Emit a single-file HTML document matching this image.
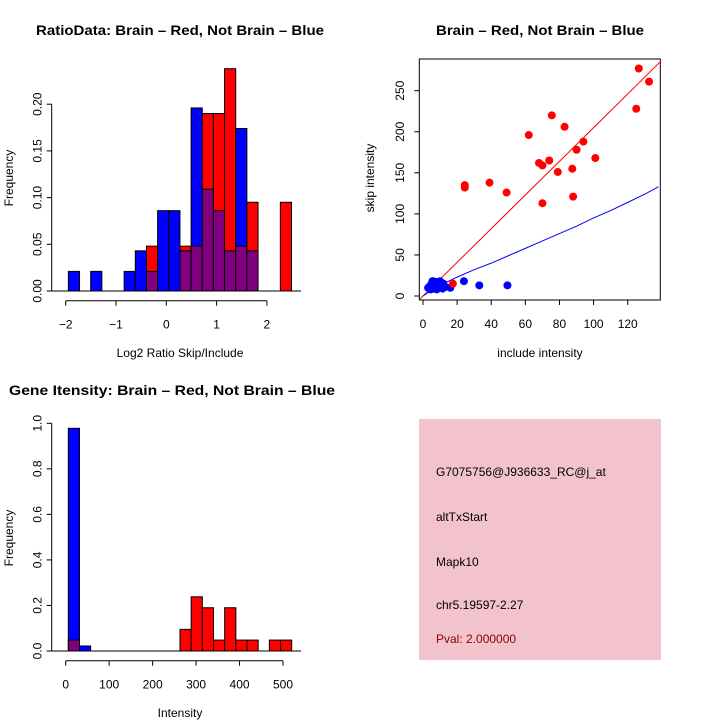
<!DOCTYPE html>
<html><head><meta charset="utf-8"><style>
html,body{margin:0;padding:0;background:#fff;}
svg{display:block;font-family:"Liberation Sans",sans-serif;}
</style></head><body>
<svg id="c" width="720" height="720" viewBox="0 0 720 720" xmlns="http://www.w3.org/2000/svg">
<text x="180" y="35" text-anchor="middle" font-size="14" font-weight="bold" textLength="288" lengthAdjust="spacingAndGlyphs">RatioData: Brain – Red, Not Brain – Blue</text>
<text x="540" y="35" text-anchor="middle" font-size="14" font-weight="bold" textLength="208" lengthAdjust="spacingAndGlyphs">Brain – Red, Not Brain – Blue</text>
<text x="172" y="395" text-anchor="middle" font-size="14" font-weight="bold" textLength="326" lengthAdjust="spacingAndGlyphs">Gene Itensity: Brain – Red, Not Brain – Blue</text>
<text x="180" y="357" text-anchor="middle" font-size="12">Log2 Ratio Skip/Include</text>
<text transform="translate(13,178) rotate(-90)" text-anchor="middle" font-size="12">Frequency</text>
<text x="540" y="357" text-anchor="middle" font-size="12">include intensity</text>
<text transform="translate(374,178) rotate(-90)" text-anchor="middle" font-size="12">skip intensity</text>
<text x="180" y="717" text-anchor="middle" font-size="12">Intensity</text>
<text transform="translate(13,538) rotate(-90)" text-anchor="middle" font-size="12">Frequency</text>
<g id="p1"></g><g id="p2"></g><g id="p3"></g>
<g>
<rect x="419" y="419" width="242" height="241" fill="#f2c3cc"/>
<text x="436" y="476" font-size="12">G7075756@J936633_RC@j_at</text>
<text x="436" y="521" font-size="12">altTxStart</text>
<text x="436" y="566" font-size="12">Mapk10</text>
<text x="436" y="609" font-size="12">chr5.19597-2.27</text>
<text x="436" y="643" font-size="12" fill="#8b0000">Pval: 2.000000</text>
</g>
</svg>
<script>
// Panel 1: ratio histogram
const ratioBinStart = -1.947;
const ratioBinWidth = 0.2218;
const ratioBlue = [0.021,0,0.021,0,0,0.021,0.043,0.021,0.086,0.086,0.043,0.196,0.109,0.086,0.043,0.174,0.043,0,0,0];
const ratioRed  = [0,0,0,0,0,0,0,0.048,0,0,0.048,0.048,0.19,0.19,0.238,0.048,0.095,0,0,0.095];
const ratioYTicks = [0,0.05,0.10,0.15,0.20];
const ratioYLabels = ["0.00","0.05","0.10","0.15","0.20"];
const ratioXTicks = [-2,-1,0,1,2];
const ratioXLabels = ["\u22122","\u22121","0","1","2"];
// Panel 2: scatter
const redX = [24.5,24.5,39,49,62,68,70,70,74,75.5,79,83,87.5,88,90,94,101,125,126.5,132.5,17.5];
const redY = [135,132,138,126,196,162,159,113,165,220,151,206,155,121,178,188,168,228,277,261,15];
const blueX = [3,4,5,5.5,6,6.5,7,7.5,8,8.5,9,9.5,10,10.5,11,11.5,12,13,16,24,33,49.5,4.5,6,8,10,12];
const blueY = [10,12,15,18,9,16,13,11,17,9,14,12,10,16,13,9,15,11,10,18,13,13,8,18,8,18,11];
const redFitSlope = 2.05;
const blueFitX = [0,5,10,15,20,30,40,50,60,70,80,90,100,110,120,130,138];
const blueFitY = [0,7,13,18,23,32,40,49,58,67,76,85,95,104,114,124,133];
const scatXTicks = [0,20,40,60,80,100,120];
const scatYTicks = [0,50,100,150,200,250];
// Panel 3: intensity histogram
const intBinStart = 6;
const intBinWidth = 25.7;
const intBlue = [0.978,0.022,0,0,0,0,0,0,0,0,0,0,0,0,0,0,0,0,0,0];
const intRed  = [0.048,0,0,0,0,0,0,0,0,0,0.095,0.238,0.19,0.048,0.19,0.048,0.048,0,0.048,0.048];
const intYTicks = [0,0.2,0.4,0.6,0.8,1.0];
const intYLabels = ["0.0","0.2","0.4","0.6","0.8","1.0"];
const intXTicks = [0,100,200,300,400,500];

const NS="http://www.w3.org/2000/svg";
function mk(parent,tag,attrs){const e=document.createElementNS(NS,tag);for(const k in attrs)e.setAttribute(k,attrs[k]);parent.appendChild(e);return e;}

function hist(g,opt){
  const sx=v=>opt.x0+(v-opt.xv0)*opt.kx, sy=v=>opt.y0-v*opt.ky;
  for(let i=0;i<opt.blue.length;i++){
    const a=opt.start+i*opt.w, b=a+opt.w, bl=opt.blue[i], rd=opt.red[i];
    const hi=Math.max(bl,rd), lo=Math.min(bl,rd);
    if(hi>0){const r=mk(g,'rect',{x:sx(a),y:sy(hi),width:sx(b)-sx(a),height:sy(0)-sy(hi),fill:bl>=rd?'#0000ff':'#ff0000',stroke:'#000','stroke-width':1});
      
      }
    if(lo>0){const r=mk(g,'rect',{x:sx(a),y:sy(lo),width:sx(b)-sx(a),height:sy(0)-sy(lo),fill:'#800080',stroke:'#000','stroke-width':1});
      
      }
  }
  const base=mk(g,'line',{x1:opt.ax,x2:opt.bx,y1:sy(0),y2:sy(0),stroke:'#000'});
  
  
  const yt=opt.yt;
  const ya=mk(g,'line',{x1:opt.yax,x2:opt.yax,y1:sy(yt[0]),y2:sy(yt[yt.length-1]),stroke:'#000'});
  
  
  yt.forEach((v,i)=>{mk(g,'line',{x1:opt.yax-5,x2:opt.yax,y1:sy(v),y2:sy(v),stroke:'#000'});
    const t=mk(g,'text',{transform:`translate(${opt.yax-10},${sy(v)}) rotate(-90)`,'text-anchor':'middle','font-size':12});t.textContent=opt.yl[i];
    
    });
  const xt=opt.xt, axy=opt.xay;
  const xa=mk(g,'line',{x1:sx(xt[0]),x2:sx(xt[xt.length-1]),y1:axy,y2:axy,stroke:'#000'});
  
  
  xt.forEach((v,i)=>{mk(g,'line',{x1:sx(v),x2:sx(v),y1:axy,y2:axy+5,stroke:'#000'});
    const t=mk(g,'text',{x:sx(v),y:axy+28,'text-anchor':'middle','font-size':12});t.textContent=opt.xl[i];
    
    });
}
hist(document.getElementById('p1'),{prefix:'ratio',x0:65.7,xv0:-2,kx:50.3,y0:291,ky:934,start:ratioBinStart,w:ratioBinWidth,blue:ratioBlue,red:ratioRed,ax:51.7,bx:301,yax:51.7,yt:ratioYTicks,yl:ratioYLabels,xt:ratioXTicks,xl:ratioXLabels,xay:300.7});
hist(document.getElementById('p3'),{prefix:'intensity',x0:65.7,xv0:0,kx:0.4346,y0:651,ky:227.7,start:intBinStart,w:intBinWidth,blue:intBlue,red:intRed,ax:51.7,bx:301,yax:51.7,yt:intYTicks,yl:intYLabels,xt:intXTicks,xl:intXTicks.map(String),xay:660.7});

(function(){
  const g=document.getElementById('p2');
  const sx=v=>423+v*1.706, sy=v=>296-v*0.8213;
  const box=mk(g,'rect',{x:419.3,y:59,width:241,height:241,fill:'none',stroke:'#000'});
  
  
  const cp=mk(g,'clipPath',{id:'clp'});mk(cp,'rect',{x:419.3,y:59,width:241,height:241});
  const lg=mk(g,'g',{'clip-path':'url(#clp)'});
  const rl=mk(lg,'line',{x1:sx(-3),y1:sy(-3*redFitSlope),x2:sx(140),y2:sy(140*redFitSlope),stroke:'#ff0000','stroke-width':1});
  
  
  const bl=mk(lg,'polyline',{points:blueFitX.map((v,i)=>sx(v)+','+sy(blueFitY[i])).join(' '),fill:'none',stroke:'#0000ff','stroke-width':1});
  
  
  blueX.forEach((v,i)=>{const c=mk(g,'circle',{cx:sx(v),cy:sy(blueY[i]),r:4,fill:'#0000ff'});
    
    });
  redX.forEach((v,i)=>{const c=mk(g,'circle',{cx:sx(v),cy:sy(redY[i]),r:4,fill:'#ff0000'});
    
    });
  scatXTicks.forEach(v=>{mk(g,'line',{x1:sx(v),x2:sx(v),y1:300,y2:305,stroke:'#000'});
    const t=mk(g,'text',{x:sx(v),y:328,'text-anchor':'middle','font-size':12});t.textContent=String(v);
    
    });
  scatYTicks.forEach(v=>{mk(g,'line',{x1:414.3,x2:419.3,y1:sy(v),y2:sy(v),stroke:'#000'});
    const t=mk(g,'text',{transform:`translate(404,${sy(v)}) rotate(-90)`,'text-anchor':'middle','font-size':12});t.textContent=String(v);
    
    });
})();
</script>
</body></html>
